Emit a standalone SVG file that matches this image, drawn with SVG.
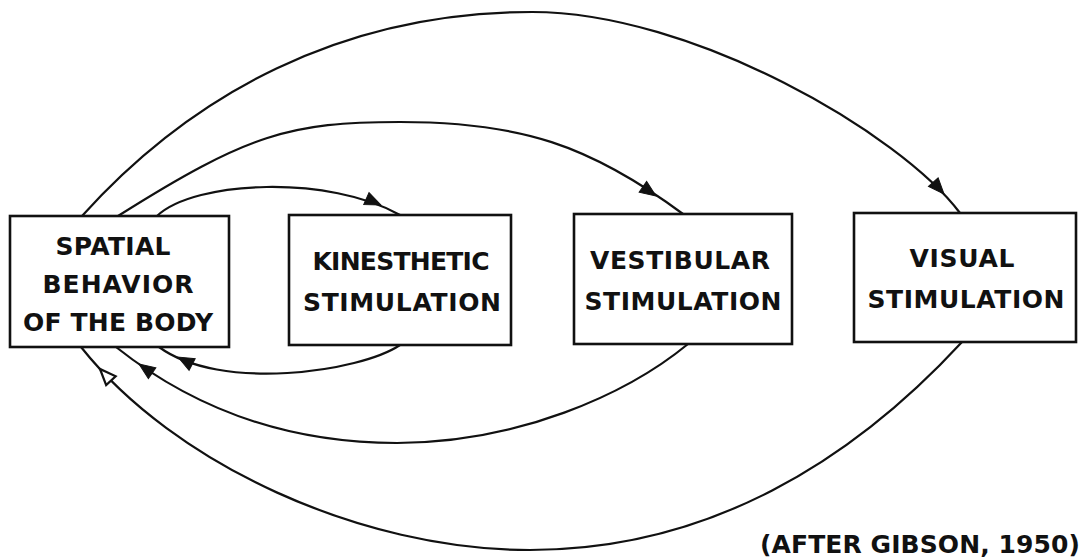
<svg xmlns="http://www.w3.org/2000/svg" width="1082" height="559" viewBox="0 0 1082 559">
<style>
.box{fill:#fff;stroke:#111;stroke-width:2.6}
.lbl{font-family:"DejaVu Sans",sans-serif;font-weight:bold;font-size:25px;fill:#111;text-anchor:middle}
.con{fill:none;stroke:#111;stroke-width:2.2}
.ah{fill:#111;stroke:#111;stroke-width:1}
.ahh{fill:#fff;stroke:#111;stroke-width:2.2}
</style>
<defs>
<polygon id="arrow" points="0,0 -16,-6.5 -16,6.5"/>
</defs>
<rect width="1082" height="559" fill="#fff"/>
<g id="connectors">
<path class="con" d="M157,216 C195,180 330,175 400,215"/>
<path class="con" d="M118,216 C248,134 290,122 400,122 C520,122 590,145 683,214"/>
<path class="con" d="M82,216 C192,94 342,12 532,12 C692,12 900,133 960,213"/>
<path class="con" d="M400,345 C360,372 220,392 159,347"/>
<path class="con" d="M688,344 C626,395 517,443 397,443 C287,443 194,409 116,347"/>
<path class="con" d="M962,342 C853,460 710,550 530,550 C360,550 174,464 81,347"/>
<use href="#arrow" class="ah" transform="translate(381,205) rotate(24)"/>
<use href="#arrow" class="ah" transform="translate(656,196) rotate(35)"/>
<use href="#arrow" class="ah" transform="translate(944,194) rotate(48)"/>
<use href="#arrow" class="ah" transform="translate(178,357) rotate(208)"/>
<use href="#arrow" class="ah" transform="translate(139,364) rotate(215)"/>
<use href="#arrow" class="ahh" transform="translate(100,369) rotate(227)"/>
</g>
<g id="spatial">
<rect class="box" x="10" y="216" width="219" height="131"/>
<text class="lbl" x="113" y="255" textLength="115">SPATIAL</text>
<text class="lbl" x="118" y="293" textLength="151">BEHAVIOR</text>
<text class="lbl" x="118" y="331" textLength="190">OF THE BODY</text>
</g>
<g id="kinesthetic">
<rect class="box" x="289" y="215" width="222" height="130"/>
<text class="lbl" x="401" y="270" textLength="177">KINESTHETIC</text>
<text class="lbl" x="402" y="311" textLength="198">STIMULATION</text>
</g>
<g id="vestibular">
<rect class="box" x="574" y="214" width="218" height="130"/>
<text class="lbl" x="680" y="269" textLength="180">VESTIBULAR</text>
<text class="lbl" x="683" y="310" textLength="197">STIMULATION</text>
</g>
<g id="visual">
<rect class="box" x="854" y="213" width="222" height="129"/>
<text class="lbl" x="962" y="267" textLength="105">VISUAL</text>
<text class="lbl" x="966" y="308" textLength="197">STIMULATION</text>
</g>
<text class="lbl" x="920" y="553" textLength="320">(AFTER GIBSON, 1950)</text>
</svg>
